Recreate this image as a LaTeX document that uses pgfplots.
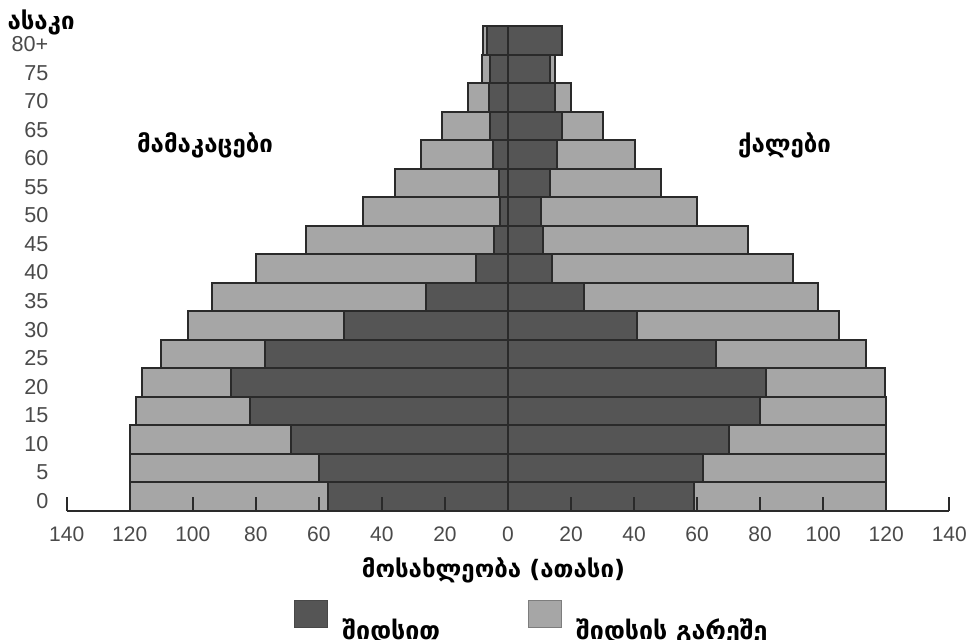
\documentclass[border=0pt]{standalone}
\usepackage{fontspec}
\setmainfont{Liberation Sans}
\newfontfamily\geo{DejaVu Sans}
\usepackage{pgfplots}
\usepackage{pgfplotstable}
\pgfplotsset{compat=1.18}
\definecolor{darkbar}{HTML}{555555}
\definecolor{lightbar}{HTML}{A6A6A6}
\definecolor{edge}{HTML}{2A2A2A}
\definecolor{ticktext}{HTML}{4A4A4A}

\pgfplotstableread{
age mdark mtot fdark ftot
0 57 120 59 120
1 60 120 62 120
2 69 120 70 120
3 82 118 80 120
4 88 116 82 119.5
5 77 110 66 113.5
6 52 101.5 41 105
7 26 94 24 98.5
8 10 80 14 90.5
9 4.3 64 11 76
10 2.4 46 10.6 60
11 2.8 36 13.2 48.5
12 4.7 27.6 15.7 40.3
13 5.8 20.8 17 30
14 6 12.6 15 20
15 5.8 8.1 13.2 14.8
16 6.6 8 17 17
}\pyr

\begin{document}
\begin{tikzpicture}
\useasboundingbox (0,0) rectangle (484pt,319.5pt);
\begin{axis}[
  at={(33.35pt,64pt)}, anchor=south west,
  scale only axis, width=441.3pt, height=242.5pt,
  xmin=-140, xmax=140, ymin=-0.5, ymax=16.5,
  clip=false,
  xbar, bar width=1, bar shift=0pt,
  axis x line*=bottom, axis y line*=left,
  y axis line style={draw=none},
  x axis line style={draw=edge, line width=0.9pt},
  axis on top,
  tick align=inside,
  major tick length=7pt,
  xtick style={draw=edge, line width=0.9pt},
  ytick style={draw=none},
  xtick={-140,-120,...,140},
  xticklabels={140,120,100,80,60,40,20,0,20,40,60,80,100,120,140},
  ytick={0,...,16},
  yticklabels={0,5,10,15,20,25,30,35,40,45,50,55,60,65,70,75,80+},
  /pgf/number format/assume math mode=true,
  xticklabel style={font=\fontsize{10.5}{12}\selectfont, text=ticktext, yshift=-4.2pt},
  yticklabel style={font=\fontsize{10.8}{12}\selectfont, text=ticktext, anchor=east, inner sep=0pt, xshift=-9pt, yshift=-2pt},
  legend columns=2,
  legend style={at={(axis description cs:0.2575,-0.1835)}, anchor=north west,
    draw=none, fill=none, inner sep=0pt,
    font=\geo\bfseries\fontsize{12.5}{14}\selectfont,
    /tikz/every odd column/.append style={column sep=5pt},
    /tikz/every even column/.append style={column sep=42pt}},
]
\addplot[fill=lightbar, draw=edge, line width=1pt, forget plot] table[x expr=-\thisrow{mtot}, y=age] {\pyr};
\addplot[fill=darkbar, draw=edge, line width=1pt, forget plot] table[x expr=-\thisrow{mdark}, y=age] {\pyr};
\addplot[fill=lightbar, draw=edge, line width=1pt, forget plot] table[x=ftot, y=age] {\pyr};
\addplot[fill=darkbar, draw=edge, line width=1pt, forget plot] table[x=fdark, y=age] {\pyr};
\addlegendimage{legend image code/.code={\draw[draw=darkbar!85!black, fill=darkbar, line width=0.5pt] (0pt,1.2pt) rectangle (16.5pt,14.7pt);}}
\addlegendentry{შიდსით}
\addlegendimage{legend image code/.code={\draw[draw=lightbar!75!black, fill=lightbar, line width=0.5pt] (0pt,1.2pt) rectangle (16.5pt,14.7pt);}}
\addlegendentry{შიდსის გარეშე}
\end{axis}
\node[anchor=base east, inner sep=0pt, font=\geo\bfseries\fontsize{12}{14}\selectfont] at (37.5pt,305pt) {ასაკი};
\node[anchor=base, inner sep=0pt, font=\geo\bfseries\fontsize{12}{14}\selectfont] at (102.5pt,243.5pt) {მამაკაცები};
\node[anchor=base, inner sep=0pt, font=\geo\bfseries\fontsize{12}{14}\selectfont] at (392.25pt,243.5pt) {ქალები};
\node[anchor=base, inner sep=0pt, font=\geo\bfseries\fontsize{12}{14}\selectfont] at (246.75pt,31pt) {მოსახლეობა (ათასი)};
\end{tikzpicture}
\end{document}
